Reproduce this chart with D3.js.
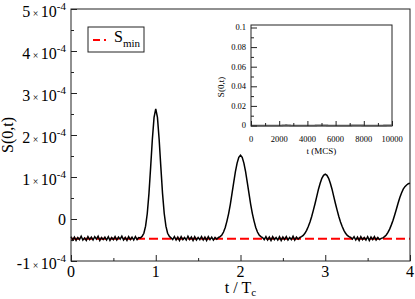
<!DOCTYPE html>
<html>
<head>
<meta charset="utf-8">
<script src="https://cdn.jsdelivr.net/npm/d3@7"></script>
<style>
  body { margin: 0; background: #fff; }
</style>
</head>
<body>
<svg id="chart" width="415" height="299"></svg>
<script>
// S(0,t), one value every 0.02 T_c, in units of 1e-5
const tStep = 0.02;
const sValues = [
  -4.2, -5.0, -4.3, -5.1, -4.4, -4.9, -4.1, -5.0, -4.5, -5.1,
  -4.2, -4.9, -4.3, -5.0, -4.2, -4.8, -4.1, -5.1, -4.4, -4.9,
  -4.3, -5.0, -4.2, -5.1, -4.4, -4.9, -4.2, -5.0, -4.3, -4.8,
  -4.1, -5.0, -4.4, -5.1, -4.2, -4.9, -4.3, -5.0, -4.2, -4.9,
  -4.4,
  -4.5, -4.1, -3.4, -1.7, 1.3, 6.1, 12.4, 19.0, 24.2, 26.2,
  24.2, 19.0, 12.4, 6.1, 1.3, -1.7, -3.4, -4.1, -4.5,
  -4.9, -4.2, -5.0, -4.3, -5.1, -4.2, -4.9, -4.4, -5.0, -4.1,
  -4.9, -4.3, -5.1, -4.2, -5.0, -4.4, -4.9, -4.2, -5.0, -4.3,
  -5.1, -4.2, -4.9, -4.3, -5.0, -4.4, -4.8,
  -4.4, -4.2, -3.8, -3.1, -2.0, -0.5, 1.3, 3.5, 6.1, 8.7,
  11.3, 13.3, 14.7, 15.2, 14.7, 13.3, 11.3, 8.7, 6.1, 3.5,
  1.3, -0.5, -2.0, -3.1, -3.8, -4.2, -4.4,
  -4.9, -4.2, -5.0, -4.3, -5.1, -4.2, -4.9, -4.4, -5.0, -4.2,
  -5.1, -4.3, -4.9, -4.2, -5.0, -4.4, -4.9, -4.1, -5.0, -4.3,
  -4.8,
  -4.4, -4.2, -3.9, -3.4, -2.7, -1.8, -0.7, 0.6, 2.1, 3.7,
  5.4, 7.1, 8.5, 9.7, 10.4, 10.7, 10.4, 9.7, 8.5, 7.1,
  5.4, 3.7, 2.1, 0.6, -0.7, -1.8, -2.7, -3.4, -3.9, -4.2,
  -4.4,
  -4.8, -4.2, -5.0, -4.3, -5.1, -4.2, -4.9, -4.4, -5.0, -4.2,
  -5.1, -4.3, -4.9, -4.2, -5.0, -4.4, -4.9, -4.6,
  -4.5, -4.2, -3.8, -3.2, -2.4, -1.4, -0.3, 1.0, 2.4, 3.8,
  5.1, 6.2, 7.1, 7.7, 8.1, 8.4, 8.5
];
const sMin = -4.7; // units of 1e-5

const yTickValues = [-1, 0, 1, 2, 3, 4, 5]; // units of 1e-4
const yMinorValues = [-0.5, 0.5, 1.5, 2.5, 3.5, 4.5];
const xTickValues = [0, 1, 2, 3, 4];
const xMinorValues = [0.5, 1.5, 2.5, 3.5];

// inset: same run against Monte Carlo steps
const mcsPerTc = 2500;
const insetYTicks = [0, 0.02, 0.04, 0.06, 0.08, 0.1];
const insetYMinor = [0.01, 0.03, 0.05, 0.07, 0.09];
const insetXTicks = [0, 2000, 4000, 6000, 8000, 10000];
const insetXMinor = [1000, 3000, 5000, 7000, 9000];

const points = sValues.map((s, i) => ({ t: i * tStep, s: s * 1e-5 }));

const svg = d3.select('#chart');
const ink = '#222';
const serif = 'Liberation Serif';

/* main plot */
const x = d3.scaleLinear().domain([0, 4]).range([71, 410]);
const y = d3.scaleLinear().domain([-1e-4, 5e-4]).range([261, 9]);

svg.append('line')
  .attr('x1', x(0)).attr('x2', x(4))
  .attr('y1', y(sMin * 1e-5)).attr('y2', y(sMin * 1e-5))
  .attr('stroke', '#f00').attr('stroke-width', 2).attr('stroke-dasharray', '9,4');

svg.append('path')
  .datum(points)
  .attr('fill', 'none').attr('stroke', '#000').attr('stroke-width', 1.5)
  .attr('d', d3.line().x(d => x(d.t)).y(d => y(d.s)));

svg.append('rect')
  .attr('x', 71).attr('y', 9).attr('width', 339).attr('height', 252)
  .attr('fill', 'none').attr('stroke', ink).attr('stroke-width', 1);

function ticks(axis, values, size, tx, ty) {
  svg.append('g').attr('transform', `translate(${tx},${ty})`).attr('color', ink)
    .call(axis.tickValues(values).tickSize(size).tickSizeOuter(0).tickFormat(''))
    .call(g => g.select('.domain').remove());
}
ticks(d3.axisLeft(y), yTickValues.map(v => v * 1e-4), -6, 71, 0);
ticks(d3.axisLeft(y), yMinorValues.map(v => v * 1e-4), -3, 71, 0);
ticks(d3.axisBottom(x), xTickValues, -6, 0, 261);
ticks(d3.axisBottom(x), xMinorValues, -3, 0, 261);

svg.append('g').selectAll('text').data(yTickValues).join('text')
  .attr('font-family', serif)
  .attr('x', 66).attr('y', d => y(d * 1e-4) + (d === 0 ? 5.5 : 8.4))
  .attr('text-anchor', 'end').attr('font-size', 16)
  .each(function(d) {
    const t = d3.select(this);
    if (d === 0) { t.text('0'); return; }
    t.append('tspan').text(d);
    t.append('tspan').attr('dx', 2.5).attr('font-size', 10).text('×');
    t.append('tspan').attr('dx', 2.5).text('10');
    t.append('tspan').attr('dy', -7).attr('font-size', 11).text('-4');
  });

svg.append('g').selectAll('text').data(xTickValues).join('text')
  .attr('font-family', serif)
  .attr('x', d => x(d)).attr('y', 277).attr('text-anchor', 'middle').attr('font-size', 16)
  .text(d => d);

const xLabel = svg.append('text').attr('font-family', serif).attr('x', 240.5).attr('y', 292.5)
  .attr('text-anchor', 'middle').attr('font-size', 16);
xLabel.append('tspan').text('t / T');
xLabel.append('tspan').attr('dy', 3).attr('font-size', 11).text('c');

svg.append('text').attr('font-family', serif).attr('transform', 'translate(12.5,135) rotate(-90)')
  .attr('text-anchor', 'middle').attr('font-size', 16).text('S(0,t)');

/* legend */
svg.append('rect').attr('x', 88).attr('y', 27).attr('width', 56).attr('height', 25)
  .attr('fill', '#fff').attr('stroke', ink).attr('stroke-width', 1);
svg.append('line').attr('x1', 93).attr('x2', 109).attr('y1', 40).attr('y2', 40)
  .attr('stroke', '#f00').attr('stroke-width', 2).attr('stroke-dasharray', '7,4,2,4');
const leg = svg.append('text').attr('font-family', serif).attr('x', 114).attr('y', 41.7).attr('font-size', 16);
leg.append('tspan').text('S');
leg.append('tspan').attr('dy', 5).attr('font-size', 11).text('min');

/* inset */
const xi = d3.scaleLinear().domain([0, 10000]).range([251, 392]);
const yi = d3.scaleLinear().domain([0, 0.1]).range([125.5, 27.5]);

svg.append('rect').attr('x', 251).attr('y', 25).attr('width', 141).attr('height', 101)
  .attr('fill', '#fff').attr('stroke', ink).attr('stroke-width', 1);

svg.append('path')
  .datum(points)
  .attr('fill', 'none').attr('stroke', '#555').attr('stroke-width', 1.8)
  .attr('d', d3.line().x(d => xi(d.t * mcsPerTc)).y(d => yi(d.s)));

ticks(d3.axisLeft(yi), insetYTicks, -6, 251, 0);
ticks(d3.axisLeft(yi), insetYMinor, -3, 251, 0);
ticks(d3.axisBottom(xi), insetXTicks, -5, 0, 126);
ticks(d3.axisBottom(xi), insetXMinor, -3, 0, 126);

svg.append('g').selectAll('text').data(insetYTicks).join('text')
  .attr('font-family', serif)
  .attr('x', 246).attr('y', d => yi(d)).attr('dy', '0.33em')
  .attr('text-anchor', 'end').attr('font-size', 8.5)
  .text(d => d);

svg.append('g').selectAll('text').data(insetXTicks).join('text')
  .attr('font-family', serif)
  .attr('x', d => xi(d)).attr('y', 142).attr('text-anchor', 'middle').attr('font-size', 8.5)
  .text(d => d);

svg.append('text').attr('font-family', serif).attr('x', 321.5).attr('y', 154).attr('text-anchor', 'middle')
  .attr('font-size', 9).text('t (MCS)');

svg.append('text').attr('font-family', serif).attr('transform', 'translate(224,87) rotate(-90)')
  .attr('text-anchor', 'middle').attr('font-size', 9).text('S(0,t)');
</script>
</body>
</html>
